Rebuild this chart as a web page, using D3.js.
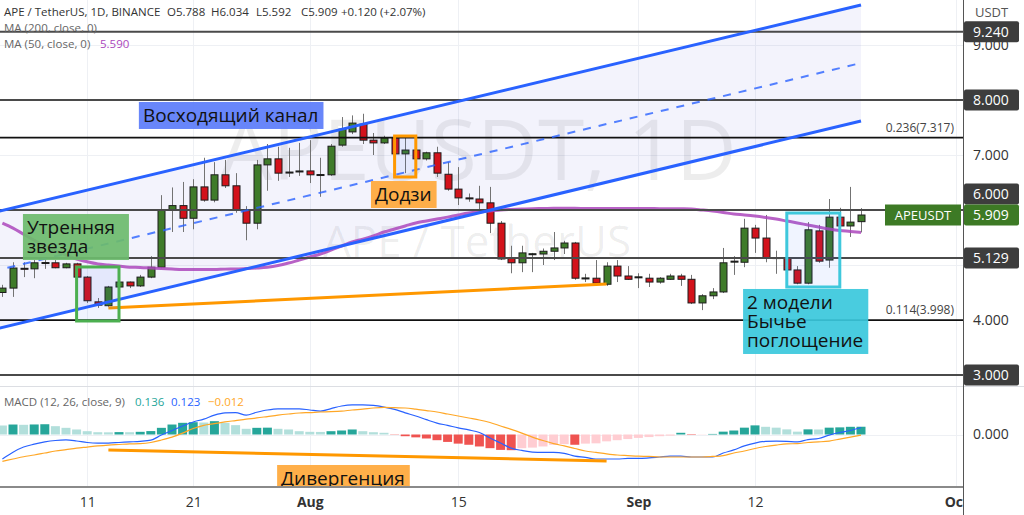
<!DOCTYPE html>
<html>
<head>
<meta charset="utf-8">
<script src="https://cdn.jsdelivr.net/npm/d3@7"></script>
<style>
  body { margin: 0; background: #fff; }
  svg { display: block; font-family: "Open Sans", "DejaVu Sans", sans-serif; }
</style>
</head>
<body>
<svg id="chart" width="1024" height="515"></svg>
<script>
// ---- data ----
// date, open, high, low, close
var candles = [
  ["2022-07-03",4.50,4.64,4.42,4.58],
  ["2022-07-04",4.58,5.05,4.42,4.945],
  ["2022-07-05",4.94,5.05,4.78,4.93],
  ["2022-07-06",4.93,5.09,4.76,5.04],
  ["2022-07-07",5.04,5.09,4.93,5.045],
  ["2022-07-08",5.04,5.09,4.94,4.95],
  ["2022-07-09",4.95,5.04,4.94,5.02],
  ["2022-07-10",5.02,5.04,4.76,4.78],
  ["2022-07-11",4.78,4.80,4.31,4.35],
  ["2022-07-12",4.33,4.40,4.22,4.27],
  ["2022-07-13",4.26,4.62,4.24,4.60],
  ["2022-07-14",4.60,4.70,4.58,4.69],
  ["2022-07-15",4.69,4.70,4.58,4.62],
  ["2022-07-16",4.62,4.82,4.60,4.78],
  ["2022-07-17",4.78,5.16,4.76,4.96],
  ["2022-07-18",4.96,6.27,4.94,6.00],
  ["2022-07-19",6.00,6.41,5.60,6.08],
  ["2022-07-20",6.08,6.51,5.60,5.85],
  ["2022-07-21",5.85,6.56,5.65,6.42],
  ["2022-07-22",6.42,6.95,6.15,6.18],
  ["2022-07-23",6.18,6.87,6.14,6.64],
  ["2022-07-24",6.64,6.91,6.40,6.44],
  ["2022-07-25",6.44,6.67,5.95,6.00],
  ["2022-07-26",6.00,6.07,5.45,5.76],
  ["2022-07-27",5.76,6.91,5.65,6.82],
  ["2022-07-28",6.82,7.20,6.35,6.93],
  ["2022-07-29",6.93,7.15,6.53,6.67],
  ["2022-07-30",6.68,7.13,6.60,6.69],
  ["2022-07-31",6.70,7.22,6.62,6.71],
  ["2022-08-01",6.71,7.27,6.49,6.64],
  ["2022-08-02",6.64,6.95,6.24,6.645],
  ["2022-08-03",6.64,7.20,6.62,7.16],
  ["2022-08-04",7.18,7.69,7.15,7.47],
  ["2022-08-05",7.42,7.72,7.38,7.58],
  ["2022-08-06",7.56,7.75,7.20,7.27],
  ["2022-08-07",7.27,7.40,7.00,7.22],
  ["2022-08-08",7.22,7.35,7.20,7.31],
  ["2022-08-09",7.31,7.33,7.00,7.02],
  ["2022-08-10",7.02,7.31,6.67,7.09],
  ["2022-08-11",7.09,7.10,6.90,6.93],
  ["2022-08-12",6.93,7.06,6.90,7.04],
  ["2022-08-13",7.04,7.15,6.60,6.67],
  ["2022-08-14",6.65,6.87,6.35,6.38],
  ["2022-08-15",6.38,6.78,6.09,6.22],
  ["2022-08-16",6.22,6.30,6.15,6.215],
  ["2022-08-17",6.20,6.44,5.95,6.13],
  ["2022-08-18",6.13,6.42,5.58,5.76],
  ["2022-08-19",5.76,5.80,5.09,5.11],
  ["2022-08-20",5.13,5.35,4.85,5.04],
  ["2022-08-21",5.04,5.35,4.87,5.22],
  ["2022-08-22",5.20,5.22,4.87,5.205],
  ["2022-08-23",5.20,5.30,5.00,5.25],
  ["2022-08-24",5.25,5.60,5.09,5.31],
  ["2022-08-25",5.31,5.44,5.20,5.40],
  ["2022-08-26",5.40,5.42,4.73,4.76],
  ["2022-08-27",4.76,4.84,4.69,4.765],
  ["2022-08-28",4.76,5.09,4.65,4.67],
  ["2022-08-29",4.65,5.05,4.62,4.98],
  ["2022-08-30",4.98,5.09,4.69,4.80],
  ["2022-08-31",4.80,4.98,4.73,4.74],
  ["2022-09-01",4.78,4.85,4.58,4.785],
  ["2022-09-02",4.76,4.84,4.60,4.69],
  ["2022-09-03",4.69,4.78,4.66,4.76],
  ["2022-09-04",4.74,4.84,4.73,4.80],
  ["2022-09-05",4.80,4.84,4.62,4.74],
  ["2022-09-06",4.74,4.82,4.29,4.31],
  ["2022-09-07",4.31,4.47,4.18,4.44],
  ["2022-09-08",4.44,4.58,4.38,4.51],
  ["2022-09-09",4.51,5.31,4.49,5.04],
  ["2022-09-10",5.06,5.16,4.82,5.07],
  ["2022-09-11",5.05,5.84,4.96,5.67],
  ["2022-09-12",5.67,5.73,5.22,5.49],
  ["2022-09-13",5.49,5.91,5.05,5.13],
  ["2022-09-14",5.13,5.26,4.84,5.135],
  ["2022-09-15",5.13,5.15,4.89,4.91],
  ["2022-09-16",4.91,4.98,4.65,4.67],
  ["2022-09-17",4.67,5.78,4.65,5.64],
  ["2022-09-18",5.62,5.73,5.04,5.07],
  ["2022-09-19",5.09,6.20,4.95,5.87],
  ["2022-09-20",5.87,6.04,5.69,5.71],
  ["2022-09-21",5.71,6.42,5.51,5.78],
  ["2022-09-22",5.788,6.034,5.592,5.909]
];

// MA 50, one value per candle
var ma50 = [
  5.76,5.67,5.56,5.45,5.35,5.26,5.18,5.11,5.06,5.02,5.00,4.98,4.96,4.955,4.945,4.935,4.927,4.92,4.918,4.918,4.918,4.925,4.927,4.935,4.945,4.96,4.99,5.035,5.09,
  5.145,5.20,5.27,5.345,5.42,5.47,5.53,5.60,5.655,5.71,5.765,5.80,5.835,5.87,5.91,5.945,5.965,5.98,6.00,6.01,6.018,6.025,6.027,6.03,6.03,6.03,6.028,6.027,6.027,6.027,6.027,
  6.027,6.027,6.025,6.025,6.022,6.018,6.00,5.98,5.955,5.927,5.91,5.89,5.865,5.835,5.80,5.765,5.727,5.69,5.655,5.627,5.61,5.59
];

// MACD (12, 26, close, 9)
var macdLine = [
  -0.43,-0.31,-0.22,-0.17,-0.13,-0.105,-0.096,-0.114,-0.14,-0.15,-0.15,-0.14,-0.13,-0.12,-0.10,-0.01,0.07,0.15,0.22,0.27,0.34,0.38,0.385,0.34,0.39,0.43,0.45,0.45,0.45,
  0.43,0.41,0.455,0.50,0.52,0.52,0.51,0.48,0.44,0.38,0.325,0.26,0.20,0.16,0.115,0.08,0.035,-0.06,-0.15,-0.24,-0.28,-0.31,-0.315,-0.315,-0.33,-0.38,-0.40,-0.43,-0.43,-0.43,-0.42,
  -0.42,-0.41,-0.395,-0.38,-0.38,-0.395,-0.395,-0.395,-0.325,-0.27,-0.20,-0.15,-0.12,-0.115,-0.12,-0.13,-0.09,-0.07,-0.01,0.035,0.07,0.123
];
var signalLine = [
  -0.47,-0.43,-0.39,-0.36,-0.325,-0.29,-0.265,-0.24,-0.22,-0.20,-0.185,-0.175,-0.165,-0.16,-0.14,-0.097,-0.045,0.025,0.105,0.16,0.19,0.22,0.245,0.27,0.29,0.315,0.34,0.36,0.377,
  0.385,0.395,0.40,0.41,0.43,0.445,0.465,0.475,0.47,0.465,0.445,0.42,0.395,0.36,0.325,0.29,0.255,0.21,0.15,0.09,0.025,-0.045,-0.105,-0.16,-0.20,-0.245,-0.29,-0.315,-0.34,-0.36,-0.37,
  -0.38,-0.385,-0.395,-0.395,-0.395,-0.395,-0.395,-0.385,-0.37,-0.325,-0.29,-0.245,-0.21,-0.185,-0.165,-0.16,-0.14,-0.13,-0.115,-0.08,-0.045,-0.012
];
var histogram = [
  0.158,0.175,0.17,0.176,0.18,0.146,0.117,0.088,0.058,0.04,0.038,0.042,0.04,0.047,0.06,0.117,0.175,0.205,0.216,0.21,0.234,0.205,0.164,0.10,0.117,0.12,0.10,0.088,0.058,
  0.047,0.045,0.058,0.07,0.088,0.058,0.04,0.03,-0.005,-0.03,-0.05,-0.07,-0.10,-0.13,-0.16,-0.18,-0.21,-0.24,-0.27,-0.275,-0.24,-0.23,-0.21,-0.18,-0.17,-0.18,-0.16,-0.155,-0.12,-0.10,-0.08,
  -0.06,-0.045,-0.03,-0.02,0.03,-0.008,-0.004,0.01,0.05,0.07,0.12,0.16,0.135,0.12,0.09,0.05,0.09,0.088,0.12,0.125,0.135,0.136
];

var priceTicks = [3, 4, 5, 6, 7, 8, 9];
var macdTicks = [0];
var timeTicks = ["2022-07-11","2022-07-21","2022-08-01","2022-08-15","2022-09-01","2022-09-12","2022-10-01"];
var timeTickLabels = ["11","21","Aug","15","Sep","12","Oct"];
var levels = [9.24, 8.0, 6.0, 5.129, 3.0];
var fibPrices = [7.317, 3.998];
var fibRatios = ["0.236", "0.114"];
var lastPrice = 5.909;

// drawings: [date, price] anchors
var channelUpper = [["2022-07-02", 5.945], ["2022-09-22", 9.727]];
var channelLower = [["2022-07-02", 3.818], ["2022-09-22", 7.618]];
var trendLine = [["2022-07-13", 4.218], ["2022-08-29", 4.655]];
var macdDivergence = [["2022-07-13", -0.272], ["2022-08-29", -0.465]];
var patternBoxes = [
  ["2022-07-10", "2022-07-14", 4.964, 3.982],
  ["2022-08-09", "2022-08-11", 7.345, 6.60],
  ["2022-09-15", "2022-09-20", 5.945, 4.60]
];
var patternColors = ["#4caf50", "#ff9800", "#3fc8dc"];
var notes = [
  {lines: ["Восходящий канал"], at: ["2022-07-15T21:00Z", 7.964], color: "#5b7cfa"},
  {lines: ["Утренняя", "звезда"], at: ["2022-07-04T22:30Z", 5.927], color: "#6cbb6c", minW: 106},
  {lines: ["Додзи"], at: ["2022-08-06T18:30Z", 6.527], color: "#ffa83a"},
  {lines: ["2 модели", "Бычье", "поглощение"], at: ["2022-09-10T21:00Z", 4.564], color: "#3ac8dc"}
];
var macdNote = {lines: ["Дивергенция"], at: ["2022-07-28T22:00Z", -0.535], color: "#ffa83a"};

// ---- layout ----
var svg = d3.select("#chart");
var plotRight = 963;
var pricePane = {top: 0, bottom: 386};
var macdPane = {top: 387, bottom: 486};

function dt(s) { return new Date(s.length === 10 ? s + "T00:00:00Z" : s); }

var x = d3.scaleUtc()
    .domain([dt("2022-07-11"), dt("2022-09-12")])
    .range([87.2, 755]);
var y = d3.scaleLinear().domain([3, 8]).range([375, 100]);
var ym = d3.scaleLinear().domain([-0.5, 0.5]).range([463, 406]);

var defs = svg.append("defs");
defs.append("clipPath").attr("id", "clipPrice").append("rect")
    .attr("x", 0).attr("y", pricePane.top).attr("width", plotRight).attr("height", pricePane.bottom - pricePane.top);
defs.append("clipPath").attr("id", "clipMacd").append("rect")
    .attr("x", 0).attr("y", macdPane.top).attr("width", plotRight).attr("height", macdPane.bottom - macdPane.top);
defs.append("clipPath").attr("id", "clipPlot").append("rect")
    .attr("x", 0).attr("y", 0).attr("width", plotRight).attr("height", 515);

// grid
var grid = svg.append("g").attr("stroke", "#eef0f4").attr("stroke-width", 1);
grid.selectAll(".vg").data(timeTicks).enter().append("line")
    .attr("x1", function (d) { return Math.round(x(dt(d))) + 0.5; })
    .attr("x2", function (d) { return Math.round(x(dt(d))) + 0.5; })
    .attr("y1", 0).attr("y2", macdPane.bottom);
grid.selectAll(".hg").data(priceTicks).enter().append("line")
    .attr("x1", 0).attr("x2", plotRight)
    .attr("y1", function (d) { return Math.round(y(d)) + 0.5; })
    .attr("y2", function (d) { return Math.round(y(d)) + 0.5; });
grid.selectAll(".mg").data(macdTicks).enter().append("line")
    .attr("x1", 0).attr("x2", plotRight)
    .attr("y1", function (d) { return Math.round(ym(d)) + 0.5; })
    .attr("y2", function (d) { return Math.round(ym(d)) + 0.5; });

var price = svg.append("g").attr("clip-path", "url(#clipPrice)");

// watermark
price.append("text").attr("x", 478).attr("y", 180).attr("text-anchor", "middle")
    .attr("font-size", 84).attr("fill", "#000").attr("fill-opacity", 0.07)
    .text("APEUSDT, 1D");
price.append("text").attr("x", 477).attr("y", 257).attr("text-anchor", "middle")
    .attr("font-size", 44).attr("fill", "#000").attr("fill-opacity", 0.07)
    .text("APE / TetherUS");

// channel background
var chPts = [
  [x(dt(channelUpper[0][0])), y(channelUpper[0][1])],
  [x(dt(channelUpper[1][0])), y(channelUpper[1][1])],
  [x(dt(channelLower[1][0])), y(channelLower[1][1])],
  [x(dt(channelLower[0][0])), y(channelLower[0][1])]
];
price.append("path").attr("d", "M" + chPts.join("L") + "Z")
    .attr("fill", "#5c5cd6").attr("fill-opacity", 0.07);

// candles
var cg = price.append("g");
var bodyW = 7;
cg.selectAll(".wick").data(candles).enter().append("line")
    .attr("x1", function (d) { return Math.round(x(dt(d[0]))) + 0.5; })
    .attr("x2", function (d) { return Math.round(x(dt(d[0]))) + 0.5; })
    .attr("y1", function (d) { return y(d[2]); })
    .attr("y2", function (d) { return y(d[3]); })
    .attr("stroke", "#737373").attr("stroke-width", 1);
cg.selectAll(".body").data(candles).enter().append("rect")
    .attr("x", function (d) { return Math.round(x(dt(d[0]))) + 0.5 - bodyW / 2; })
    .attr("y", function (d) { return y(Math.max(d[1], d[4])); })
    .attr("width", bodyW)
    .attr("height", function (d) { return Math.max(1, Math.abs(y(d[1]) - y(d[4]))); })
    .attr("fill", function (d) { return d[4] >= d[1] ? "#3f7b2a" : "#d3121b"; })
    .attr("stroke", "#1c1c1c").attr("stroke-width", 1);

// MA 50
price.append("path").datum(ma50)
    .attr("d", d3.line()
        .x(function (d, i) { return x(dt(candles[i][0])); })
        .y(function (d) { return y(d); })
        .curve(d3.curveMonotoneX))
    .attr("fill", "none").attr("stroke", "#ab47bc").attr("stroke-width", 3).attr("stroke-opacity", 0.85);

// horizontal levels
price.selectAll(".lvl").data(levels).enter().append("line")
    .attr("x1", 0).attr("x2", plotRight)
    .attr("y1", function (d) { return y(d); })
    .attr("y2", function (d) { return y(d); })
    .attr("stroke", "#4a4a4a").attr("stroke-width", 2);
price.selectAll(".fib").data(fibPrices).enter().append("line")
    .attr("x1", 0).attr("x2", plotRight)
    .attr("y1", function (d) { return y(d); })
    .attr("y2", function (d) { return y(d); })
    .attr("stroke", "#111").attr("stroke-width", 1.8);
price.selectAll(".fibt").data(fibPrices).enter().append("text")
    .attr("x", 954).attr("y", function (d) { return y(d) - 6; })
    .attr("text-anchor", "end").attr("font-size", 12).attr("fill", "#444")
    .text(function (d, i) { return fibRatios[i] + "(" + d3.format(".3f")(d) + ")"; });

// channel lines
function seg(a) {
  return "M" + x(dt(a[0][0])) + "," + y(a[0][1]) + "L" + x(dt(a[1][0])) + "," + y(a[1][1]);
}
var channelMid = [
  [channelUpper[0][0], (channelUpper[0][1] + channelLower[0][1]) / 2],
  [channelUpper[1][0], (channelUpper[1][1] + channelLower[1][1]) / 2]
];
price.append("path").attr("d", seg(channelUpper)).attr("stroke", "#2962ff").attr("stroke-width", 3);
price.append("path").attr("d", seg(channelLower)).attr("stroke", "#2962ff").attr("stroke-width", 3);
price.append("path").attr("d", seg(channelMid)).attr("stroke", "#2962ff").attr("stroke-width", 2)
    .attr("stroke-dasharray", "8,8").attr("stroke-opacity", 0.8);
price.append("path").attr("d", seg(trendLine)).attr("stroke", "#ff9800").attr("stroke-width", 3);

// pattern boxes
price.selectAll(".pbox").data(patternBoxes).enter().append("rect")
    .attr("x", function (d) { return x(dt(d[0])); })
    .attr("y", function (d) { return y(d[2]); })
    .attr("width", function (d) { return x(dt(d[1])) - x(dt(d[0])); })
    .attr("height", function (d) { return y(d[3]) - y(d[2]); })
    .attr("fill", "#2962ff").attr("fill-opacity", 0.07)
    .attr("stroke", function (d, i) { return patternColors[i]; })
    .attr("stroke-width", 3);

// text notes
function drawNote(parent, n, yScale) {
  var g = parent.append("g")
      .attr("transform", "translate(" + x(dt(n.at[0])) + "," + yScale(n.at[1]) + ")");
  var r = g.append("rect").attr("fill", n.color).attr("fill-opacity", 0.92);
  var t = g.append("text").attr("font-size", 19).attr("fill", "#111");
  n.lines.forEach(function (s, i) {
    t.append("tspan").attr("x", 4).attr("y", 20 + i * 19).text(s);
  });
  var bb = t.node().getBBox();
  r.attr("width", Math.max(n.minW || 0, bb.width + 9)).attr("height", n.lines.length * 19 + 8);
}
notes.forEach(function (n) { drawNote(price, n, y); });

// ---- MACD pane ----
var macd = svg.append("g").attr("clip-path", "url(#clipMacd)");
var barW = 9;
macd.selectAll(".hist").data(histogram).enter().append("rect")
    .attr("x", function (d, i) { return x(dt(candles[i][0])) - barW / 2; })
    .attr("y", function (d) { return Math.min(ym(d), ym(0)); })
    .attr("width", barW)
    .attr("height", function (d) { return Math.abs(ym(d) - ym(0)); })
    .attr("fill", function (d, i) {
      var prev = i > 0 ? histogram[i - 1] : d + 1;
      if (d >= 0) return d >= prev ? "#26a69a" : "#b2dfdb";
      return d < prev ? "#ef5350" : "#ffcdd2";
    });
var mline = d3.line()
    .x(function (d, i) { return x(dt(candles[i][0])); })
    .y(function (d) { return ym(d); })
    .curve(d3.curveMonotoneX);
macd.append("path").datum(macdLine).attr("d", mline)
    .attr("fill", "none").attr("stroke", "#2962ff").attr("stroke-width", 1.2);
macd.append("path").datum(signalLine).attr("d", mline)
    .attr("fill", "none").attr("stroke", "#ffa726").attr("stroke-width", 1.2);
macd.append("path")
    .attr("d", "M" + x(dt(macdDivergence[0][0])) + "," + ym(macdDivergence[0][1]) +
               "L" + x(dt(macdDivergence[1][0])) + "," + ym(macdDivergence[1][1]))
    .attr("stroke", "#ff9800").attr("stroke-width", 3);
drawNote(macd, macdNote, ym);

// ---- frame, axes ----
svg.append("line").attr("x1", 0).attr("x2", 1024).attr("y1", 386.5).attr("y2", 386.5)
    .attr("stroke", "#dcdee3").attr("stroke-width", 1);
svg.append("line").attr("x1", 0).attr("x2", plotRight).attr("y1", 487).attr("y2", 487)
    .attr("stroke", "#8a8a8a").attr("stroke-width", 2);
svg.append("line").attr("x1", plotRight + 0.5).attr("x2", plotRight + 0.5).attr("y1", 0).attr("y2", 515)
    .attr("stroke", "#555").attr("stroke-width", 1);

// time axis
var xAxis = d3.axisBottom(x)
    .tickValues(timeTicks.map(dt))
    .tickSize(0).tickPadding(0)
    .tickFormat(function (d, i) { return timeTickLabels[i]; });
var xg = svg.append("g").attr("transform", "translate(0,497)").attr("clip-path", "url(#clipPlot)").call(xAxis);
xg.select(".domain").remove();
xg.selectAll("text")
    .attr("font-family", "'Open Sans', sans-serif")
    .attr("font-size", 14).attr("fill", "#333").attr("dy", "0.71em")
    .attr("font-weight", function (d, i) { return /[A-Za-z]/.test(timeTickLabels[i]) ? "bold" : "normal"; });

// price labels on the axis (boxes), placed first so plain ticks under them can be skipped
var boxH = 21;
var lastY = y(lastPrice);
var axisLabels = levels.map(function (v) {
  var cy = y(v);
  if (Math.abs(cy - lastY) < boxH) cy = cy < lastY ? lastY - boxH : lastY + boxH;
  return {v: v, cy: cy, fill: "#3d3d3d"};
});
axisLabels.push({v: lastPrice, cy: lastY, fill: "#3d7a25"});

// price axis: ticks that sit under a label box are hidden, as on the chart
var visibleTicks = priceTicks.filter(function (t) {
  return axisLabels.every(function (b) { return Math.abs(y(t) - b.cy) >= 9; });
});
var yAxis = d3.axisRight(y).tickValues(visibleTicks).tickFormat(d3.format(".3f")).tickSize(0).tickPadding(10);
var yg = svg.append("g").attr("transform", "translate(" + plotRight + ",0)").call(yAxis);
yg.select(".domain").remove();
yg.selectAll("text").attr("font-family", "'Open Sans', sans-serif").attr("font-size", 14).attr("fill", "#333");
var mAxis = d3.axisRight(ym).tickValues(macdTicks).tickFormat(d3.format(".3f")).tickSize(0).tickPadding(10);
var mg = svg.append("g").attr("transform", "translate(" + plotRight + ",0)").call(mAxis);
mg.select(".domain").remove();
mg.selectAll("text").attr("font-family", "'Open Sans', sans-serif").attr("font-size", 14).attr("fill", "#333");

svg.append("text").attr("x", 975).attr("y", 17).attr("font-size", 13).attr("fill", "#555").text("USDT");

var al = svg.selectAll(".alab").data(axisLabels).enter().append("g")
    .attr("transform", function (d) { return "translate(" + (plotRight + 1) + "," + (d.cy - boxH / 2) + ")"; });
al.append("rect").attr("width", 55).attr("height", boxH).attr("rx", 2)
    .attr("fill", function (d) { return d.fill; });
al.append("text").attr("x", 9).attr("y", 15.5).attr("font-size", 14).attr("fill", "#fff")
    .text(function (d) { return d3.format(".3f")(d.v); });

// series tag left of axis
svg.append("rect").attr("x", 885).attr("y", lastY - boxH / 2).attr("width", 76).attr("height", boxH)
    .attr("fill", "#3d7a25");
svg.append("text").attr("x", 923).attr("y", lastY + 5).attr("text-anchor", "middle")
    .attr("font-size", 13).attr("fill", "#fff").text("APEUSDT");

// legends
var leg = svg.append("g").attr("font-size", 11.5).attr("fill", "#333");
var l1 = leg.append("text").attr("x", 4).attr("y", 16);
l1.append("tspan").text("APE / TetherUS, 1D, BINANCE");
l1.append("tspan").attr("x", 167).text("O" + d3.format(".3f")(candles[candles.length - 1][1]));
l1.append("tspan").attr("x", 211).text("H" + d3.format(".3f")(candles[candles.length - 1][2]));
l1.append("tspan").attr("x", 256).text("L" + d3.format(".3f")(candles[candles.length - 1][3]));
l1.append("tspan").attr("x", 301).text("C" + d3.format(".3f")(candles[candles.length - 1][4]));
l1.append("tspan").attr("x", 341).text("+0.120 (+2.07%)");
leg.append("text").attr("x", 4).attr("y", 32).attr("fill", "#666").text("MA (200, close, 0)");
var l3 = leg.append("text").attr("x", 4).attr("y", 48).attr("fill", "#666");
l3.append("tspan").text("MA (50, close, 0)");
l3.append("tspan").attr("x", 100).attr("fill", "#ab47bc").text(d3.format(".3f")(ma50[ma50.length - 1]));
var l4 = leg.append("text").attr("x", 4).attr("y", 406).attr("fill", "#666");
l4.append("tspan").text("MACD (12, 26, close, 9)");
l4.append("tspan").attr("x", 135).attr("fill", "#26a69a").text(d3.format(".3f")(histogram[histogram.length - 1]));
l4.append("tspan").attr("x", 171).attr("fill", "#2962ff").text(d3.format(".3f")(macdLine[macdLine.length - 1]));
l4.append("tspan").attr("x", 208).attr("fill", "#ffa726").text(d3.format(".3f")(signalLine[signalLine.length - 1]));
</script>
</body>
</html>
